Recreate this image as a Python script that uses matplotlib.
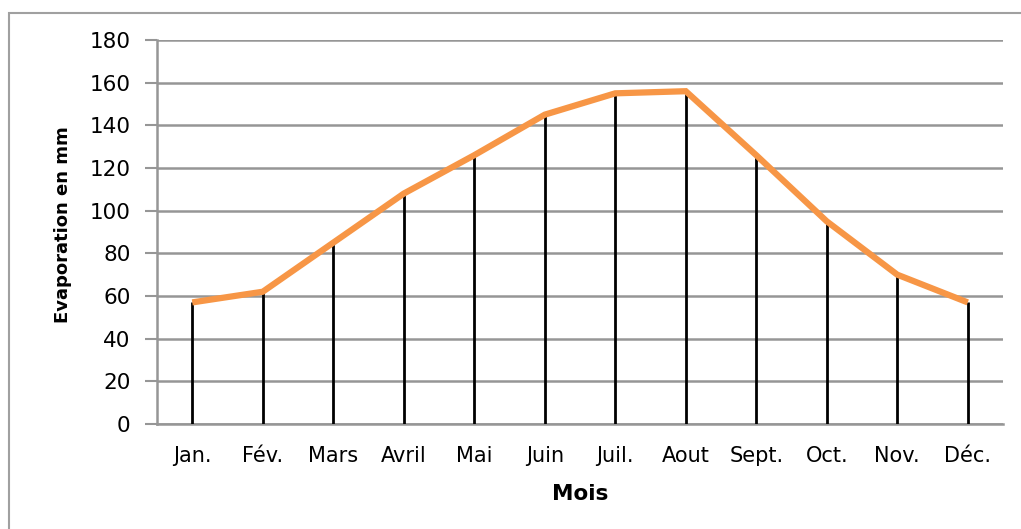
import matplotlib
matplotlib.use("Agg")
import matplotlib.pyplot as plt
from matplotlib.patches import Rectangle

### Données ###
mois = ['Jan.', 'Fév.', 'Mars', 'Avril', 'Mai', 'Juin', 'Juil.', 'Aout', 'Sept.', 'Oct.', 'Nov.', 'Déc.']
evaporation = [57, 62, 85, 108, 126, 145, 155, 156, 126, 95, 70, 57]
yticks = [0, 20, 40, 60, 80, 100, 120, 140, 160, 180]

gris = '#969696'
orange = '#F79646'

fig = plt.figure(figsize=(10.21, 5.29), dpi=100)
ax = fig.add_axes([157 / 1021, 1 - 424 / 529, 846 / 1021, 384 / 529])

# cadre de la figure (coupé à droite et en bas)
fig.patches.append(Rectangle((9 / 1021, -0.1), 1.2, 1 - 13 / 529 + 0.1,
                             transform=fig.transFigure, fill=False,
                             edgecolor='#a0a0a0', linewidth=1.5))

x = list(range(len(mois)))

### Lignes verticales + courbe ###
ax.vlines(x, 0, evaporation, colors='black', linewidth=2, zorder=3)
ax.plot(x, evaporation, color=orange, linewidth=4.5, solid_capstyle='butt',
        solid_joinstyle='miter', zorder=4)

### Axes ###
ax.set_xlim(-0.5, len(mois) - 0.5)
ax.set_ylim(0, 180)
ax.set_yticks(yticks)
ax.set_xticks(x)
ax.set_xticklabels(mois, fontsize=15)
ax.tick_params(axis='x', length=0, pad=16)
ax.tick_params(axis='y', length=9, width=1.5, color=gris, pad=10, labelsize=15.5)
ax.yaxis.grid(True, color=gris, linewidth=1.8)
ax.set_axisbelow(True)

for s in ['top', 'right']:
    ax.spines[s].set_visible(False)
ax.spines['left'].set_color(gris)
ax.spines['left'].set_linewidth(1.8)
ax.spines['bottom'].set_color(gris)
ax.spines['bottom'].set_linewidth(1.8)

ax.set_ylabel('Evaporation en mm', fontsize=13, fontweight='bold')
ax.yaxis.set_label_coords(-0.1, 0.52)
ax.set_xlabel('Mois', fontsize=15.5, fontweight='bold')
ax.xaxis.set_label_coords(0.5, -0.155)

fig.savefig('out.png', dpi=100)
